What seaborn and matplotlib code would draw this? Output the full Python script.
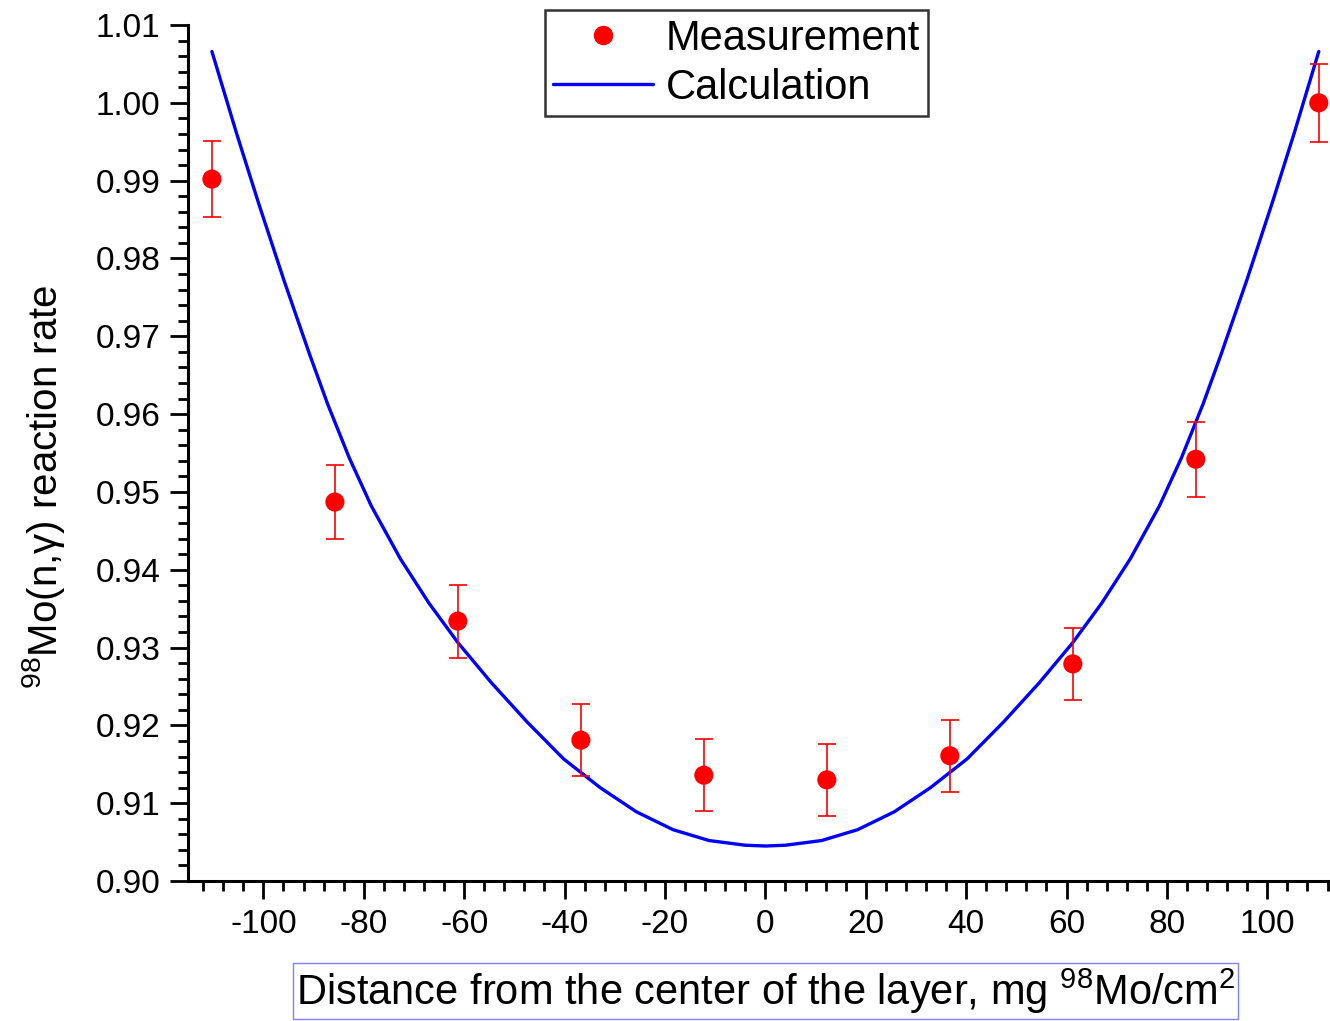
import numpy as np
import pandas as pd
import matplotlib
matplotlib.use("Agg")
import matplotlib.pyplot as plt
import seaborn as sns
from matplotlib.lines import Line2D
from matplotlib.ticker import MultipleLocator, FormatStrFormatter

# measured reaction rates
meas_x = [-110.25, -85.75, -61.25, -36.75, -12.25, 12.25, 36.75, 61.25, 85.75, 110.25]
meas_y = [0.9902, 0.9487, 0.9334, 0.9181, 0.9136, 0.9130, 0.9161, 0.9279, 0.9542, 1.0000]
meas_err = [0.0049, 0.0047, 0.0047, 0.0046, 0.0046, 0.0046, 0.0046, 0.0046, 0.0048, 0.0050]

calc_x_left = [-110.25, -105.3, -101.0, -95.9, -90.8, -87.2, -82.9, -78.5, -72.7, -67.0,
               -61.2, -54.6, -47.4, -40.2, -32.9, -25.7, -18.4, -11.2, -4.0]
calc_y_left = [1.0066, 0.9960, 0.9872, 0.9772, 0.9677, 0.9613, 0.9544, 0.9482, 0.9414, 0.9357,
               0.9306, 0.9255, 0.9204, 0.9157, 0.9120, 0.9089, 0.9066, 0.9052, 0.9046]
calc_x = calc_x_left + [0.0] + [-v for v in calc_x_left[::-1]]
calc_y = calc_y_left + [0.9045] + calc_y_left[::-1]

meas = pd.DataFrame({"x": meas_x, "y": meas_y, "err": meas_err})
calc = pd.DataFrame({"x": calc_x, "y": calc_y})

sns.set_style("ticks")
plt.rcParams["font.family"] = ["Liberation Sans", "DejaVu Sans"]
plt.rcParams["mathtext.fontset"] = "custom"
plt.rcParams["mathtext.rm"] = "Liberation Sans"
plt.rcParams["mathtext.it"] = "Liberation Sans"
plt.rcParams["axes.unicode_minus"] = False
plt.rcParams["text.color"] = "black"
plt.rcParams["axes.labelcolor"] = "black"
plt.rcParams["xtick.color"] = "black"
plt.rcParams["ytick.color"] = "black"
plt.rcParams["axes.edgecolor"] = "black"

fig = plt.figure(figsize=(13.3, 10.21), dpi=100)
ax = fig.add_axes([0.1414, 0.1371, 0.8681, 0.8384])

sns.lineplot(data=calc, x="x", y="y", ax=ax, color="#0000ff", lw=2.4, sort=False)
ax.errorbar(meas["x"], meas["y"], yerr=meas["err"], fmt="none", ecolor="#ff0000",
            elinewidth=1.2, capsize=6.5, capthick=1.2, zorder=3)
sns.scatterplot(data=meas, x="x", y="y", ax=ax, color="#ff0000", s=190,
                edgecolor="none", zorder=4)

ax.set_xlim(-115, 115)
ax.set_ylim(0.90, 1.01)
ax.xaxis.set_major_locator(MultipleLocator(20))
ax.xaxis.set_minor_locator(MultipleLocator(4))
ax.yaxis.set_major_locator(MultipleLocator(0.01))
ax.yaxis.set_minor_locator(MultipleLocator(0.002))
ax.yaxis.set_major_formatter(FormatStrFormatter("%.2f"))
ax.tick_params(which="major", length=13, width=2, labelsize=24, pad=7, direction="out")
ax.tick_params(which="minor", length=7, width=2, direction="out")

sns.despine(ax=ax)
for s in ["left", "bottom"]:
    ax.spines[s].set_linewidth(2.2)

ax.set_ylabel("$^{98}$Mo(n,γ) reaction rate", fontsize=29)
ax.yaxis.set_label_coords(-0.105, 0.46)
ax.set_xlabel("Distance from the center of the layer, mg $^{98}$Mo/cm$^{2}$", fontsize=30,
              labelpad=19,
              bbox=dict(facecolor="none", edgecolor="#8080ff", linewidth=1, pad=2))

handles = [
    Line2D([], [], marker="o", color="#ff0000", linestyle="none", markersize=13),
    Line2D([], [], color="#0000ff", lw=2.4),
]
leg = fig.legend(handles, ["Measurement", "Calculation"], loc="upper center",
                 bbox_to_anchor=(0.5538, 0.99), fontsize=30, frameon=True,
                 fancybox=False, edgecolor="black", handlelength=2.4,
                 handletextpad=0.29, labelspacing=0.22, borderpad=0.2,
                 borderaxespad=0)
leg.get_frame().set_linewidth(1.8)
for t in leg.get_texts():
    t.set_color("black")

fig.savefig("out.png", dpi=100)
